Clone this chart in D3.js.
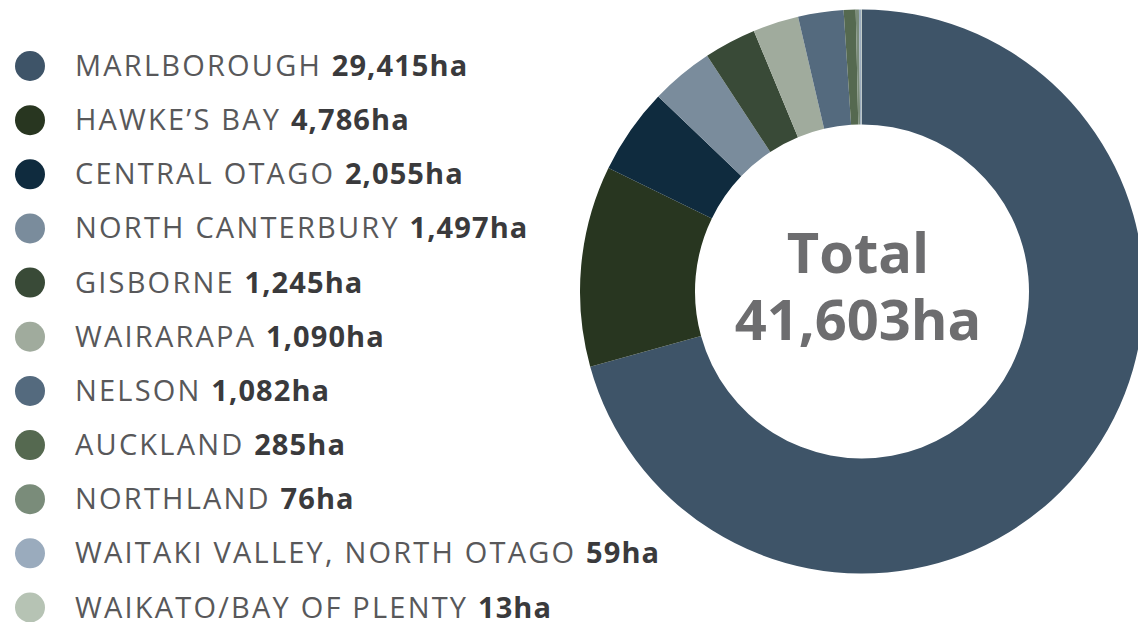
<!DOCTYPE html>
<html>
<head>
<meta charset="utf-8">
<script src="https://cdn.jsdelivr.net/npm/d3@7"></script>
<style>
  html, body { margin: 0; padding: 0; background: #fff; overflow: hidden; }
  svg { display: block; }
</style>
</head>
<body>
<svg id="chart" width="1138" height="622"></svg>
<script>
const regions = ["MARLBOROUGH", "HAWKE’S BAY", "CENTRAL OTAGO", "NORTH CANTERBURY", "GISBORNE",
  "WAIRARAPA", "NELSON", "AUCKLAND", "NORTHLAND", "WAITAKI VALLEY, NORTH OTAGO", "WAIKATO/BAY OF PLENTY"];
const hectares = [29415, 4786, 2055, 1497, 1245, 1090, 1082, 285, 76, 59, 13];
const colors = ["#3e5468", "#283620", "#0f2b3e", "#7a8c9c", "#394a37", "#a0ab9d",
  "#546a7e", "#556950", "#7a8c7a", "#9aabbd", "#b6c3b4"];
const totalLabel = "Total";

const svg = d3.select("#chart");
const fmt = d3.format(",");
const total = d3.sum(hectares);

const data = regions.map((r, i) => ({ region: r, value: hectares[i], color: colors[i] }));

// Donut
const cx = 862, cy = 291.5, outerR = 282, innerR = 167;
const pie = d3.pie().value(d => d.value).sort(null);
const arc = d3.arc().innerRadius(innerR).outerRadius(outerR);
const g = svg.append("g").attr("transform", `translate(${cx},${cy})`);
g.selectAll("path").data(pie(data)).join("path")
  .attr("d", arc)
  .attr("fill", d => d.data.color);

// Center text
const ct = svg.append("g").attr("transform", `translate(858,0)`)
  .attr("font-family", "'Open Sans', sans-serif").attr("font-weight", 700)
  .attr("fill", "#6d6d6f").attr("text-anchor", "middle");
ct.append("text").attr("y", 273).attr("font-size", 56).text(totalLabel);
ct.append("text").attr("y", 340).attr("font-size", 56).text(fmt(total) + "ha");

// Legend
const y = d3.scalePoint().domain(regions).range([66, 607.5]);
const leg = svg.append("g");
const rows = leg.selectAll("g").data(data).join("g")
  .attr("transform", d => `translate(0,${y(d.region)})`);
rows.append("circle").attr("cx", 30).attr("cy", 0).attr("r", 15).attr("fill", d => d.color);
const t = rows.append("text").attr("x", 75).attr("y", 10)
  .attr("font-family", "'Open Sans', sans-serif").attr("font-size", 29);
t.append("tspan").attr("fill", "#58585a").attr("font-weight", 400)
  .attr("letter-spacing", 2.2).text(d => d.region + " ");
t.append("tspan").attr("fill", "#3a3a3c").attr("font-weight", 700)
  .attr("letter-spacing", 1.1).text(d => fmt(d.value) + "ha");
</script>
</body>
</html>
